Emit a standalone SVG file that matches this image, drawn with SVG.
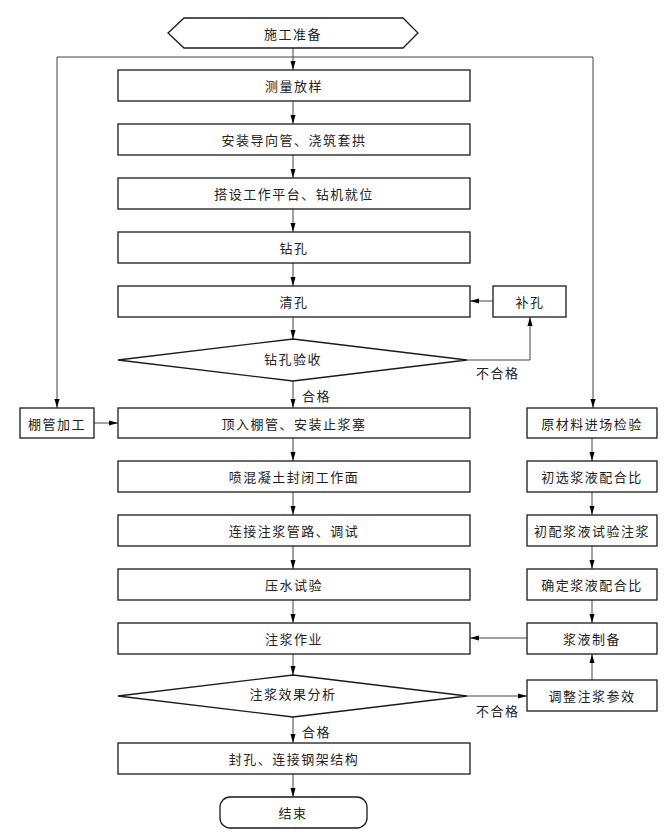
<svg xmlns="http://www.w3.org/2000/svg" width="671" height="836" viewBox="0 0 671 836">
<defs>
<marker id="ah" markerWidth="10" markerHeight="6" refX="9" refY="3" orient="auto" markerUnits="userSpaceOnUse">
<path d="M0,0.5 L9,3 L0,5.5 Z" fill="#000"/>
</marker>
<style>
.n{fill:#fff;stroke:#1a1a1a;stroke-width:1.3}
.t{font-family:"Noto Sans CJK SC","Noto Sans",sans-serif;font-size:13px;fill:#222;text-anchor:middle;dominant-baseline:central;letter-spacing:1.5px}
.l{font-family:"Noto Sans CJK SC","Noto Sans",sans-serif;font-size:13px;fill:#222;letter-spacing:1.5px;dominant-baseline:central}
.c{fill:none;stroke:#444;stroke-width:1}
.a{marker-end:url(#ah)}
</style>
</defs>
<rect width="671" height="836" fill="#fff"/>
<g id="connectors">
<path class="c a" d="M293,48 V70"/>
<path class="c" d="M57,57 H593"/>
<path class="c a" d="M57,57 V408"/>
<path class="c a" d="M593,57 V408"/>
<path class="c a" d="M293,101 V124"/>
<path class="c a" d="M293,155 V178"/>
<path class="c a" d="M293,209 V232"/>
<path class="c a" d="M293,263 V286"/>
<path class="c a" d="M293,317 V339"/>
<path class="c a" d="M493,301 H470"/>
<path class="c a" d="M467,360 H530 V317"/>
<path class="c a" d="M293,381 V408"/>
<path class="c a" d="M94,423 H118"/>
<path class="c a" d="M293,438 V461"/>
<path class="c a" d="M293,492 V515"/>
<path class="c a" d="M293,546 V569"/>
<path class="c a" d="M293,600 V623"/>
<path class="c a" d="M293,654 V675"/>
<path class="c a" d="M592,438 V461"/>
<path class="c a" d="M592,492 V515"/>
<path class="c a" d="M592,546 V569"/>
<path class="c a" d="M592,600 V623"/>
<path class="c a" d="M527,638 H470"/>
<path class="c a" d="M467,696 H527"/>
<path class="c a" d="M592,680 V654"/>
<path class="c a" d="M293,717 V743"/>
<path class="c a" d="M293,774 V797"/>
</g>
<g id="labels">
<text class="l" x="302" y="395">合格</text>
<text class="l" x="476" y="372">不合格</text>
<text class="l" x="302" y="731">合格</text>
<text class="l" x="476" y="710">不合格</text>
</g>
<g id="n-start"><path class="n" d="M168,33 L184,18 H403 L418,33 L403,48 H184 Z"/><text class="t" x="293" y="33">施工准备</text></g>
<g id="n1"><rect class="n" x="118" y="70" width="352" height="31"/><text class="t" x="294" y="85.5">测量放样</text></g>
<g id="n2"><rect class="n" x="118" y="124" width="352" height="31"/><text class="t" x="294" y="139.5">安装导向管、浇筑套拱</text></g>
<g id="n3"><rect class="n" x="118" y="178" width="352" height="31"/><text class="t" x="294" y="193.5">搭设工作平台、钻机就位</text></g>
<g id="n4"><rect class="n" x="118" y="232" width="352" height="31"/><text class="t" x="294" y="247.5">钻孔</text></g>
<g id="n5"><rect class="n" x="118" y="286" width="352" height="31"/><text class="t" x="294" y="301.5">清孔</text></g>
<g id="n-bukong"><rect class="n" x="493" y="286" width="73" height="31"/><text class="t" x="530" y="301.5">补孔</text></g>
<g id="d1"><path class="n" d="M118,360 L293,339 L467,360 L293,381 Z"/><text class="t" x="293" y="358">钻孔验收</text></g>
<g id="n-pengguan"><rect class="n" x="20" y="408" width="74" height="30"/><text class="t" x="57" y="423">棚管加工</text></g>
<g id="n6"><rect class="n" x="118" y="408" width="352" height="30"/><text class="t" x="294" y="423">顶入棚管、安装止浆塞</text></g>
<g id="r1"><rect class="n" x="527" y="408" width="130" height="30"/><text class="t" x="592" y="423">原材料进场检验</text></g>
<g id="n7"><rect class="n" x="118" y="461" width="352" height="31"/><text class="t" x="294" y="476.5">喷混凝土封闭工作面</text></g>
<g id="r2"><rect class="n" x="527" y="461" width="130" height="31"/><text class="t" x="592" y="476.5">初选浆液配合比</text></g>
<g id="n8"><rect class="n" x="118" y="515" width="352" height="31"/><text class="t" x="294" y="530.5">连接注浆管路、调试</text></g>
<g id="r3"><rect class="n" x="527" y="515" width="130" height="31"/><text class="t" x="592" y="530.5">初配浆液试验注浆</text></g>
<g id="n9"><rect class="n" x="118" y="569" width="352" height="31"/><text class="t" x="294" y="584.5">压水试验</text></g>
<g id="r4"><rect class="n" x="527" y="569" width="130" height="31"/><text class="t" x="592" y="584.5">确定浆液配合比</text></g>
<g id="n10"><rect class="n" x="118" y="623" width="352" height="31"/><text class="t" x="294" y="638.5">注浆作业</text></g>
<g id="r5"><rect class="n" x="527" y="623" width="130" height="31"/><text class="t" x="592" y="638.5">浆液制备</text></g>
<g id="d2"><path class="n" d="M118,696 L293,675 L467,696 L293,717 Z"/><text class="t" x="293" y="693">注浆效果分析</text></g>
<g id="r6"><rect class="n" x="527" y="680" width="130" height="31"/><text class="t" x="592" y="695.5">调整注浆参效</text></g>
<g id="n11"><rect class="n" x="118" y="743" width="352" height="31"/><text class="t" x="294" y="758.5">封孔、连接钢架结构</text></g>
<g id="n-end"><rect class="n" x="220" y="797" width="147" height="31" rx="10"/><text class="t" x="293" y="812.5">结束</text></g>
</svg>
